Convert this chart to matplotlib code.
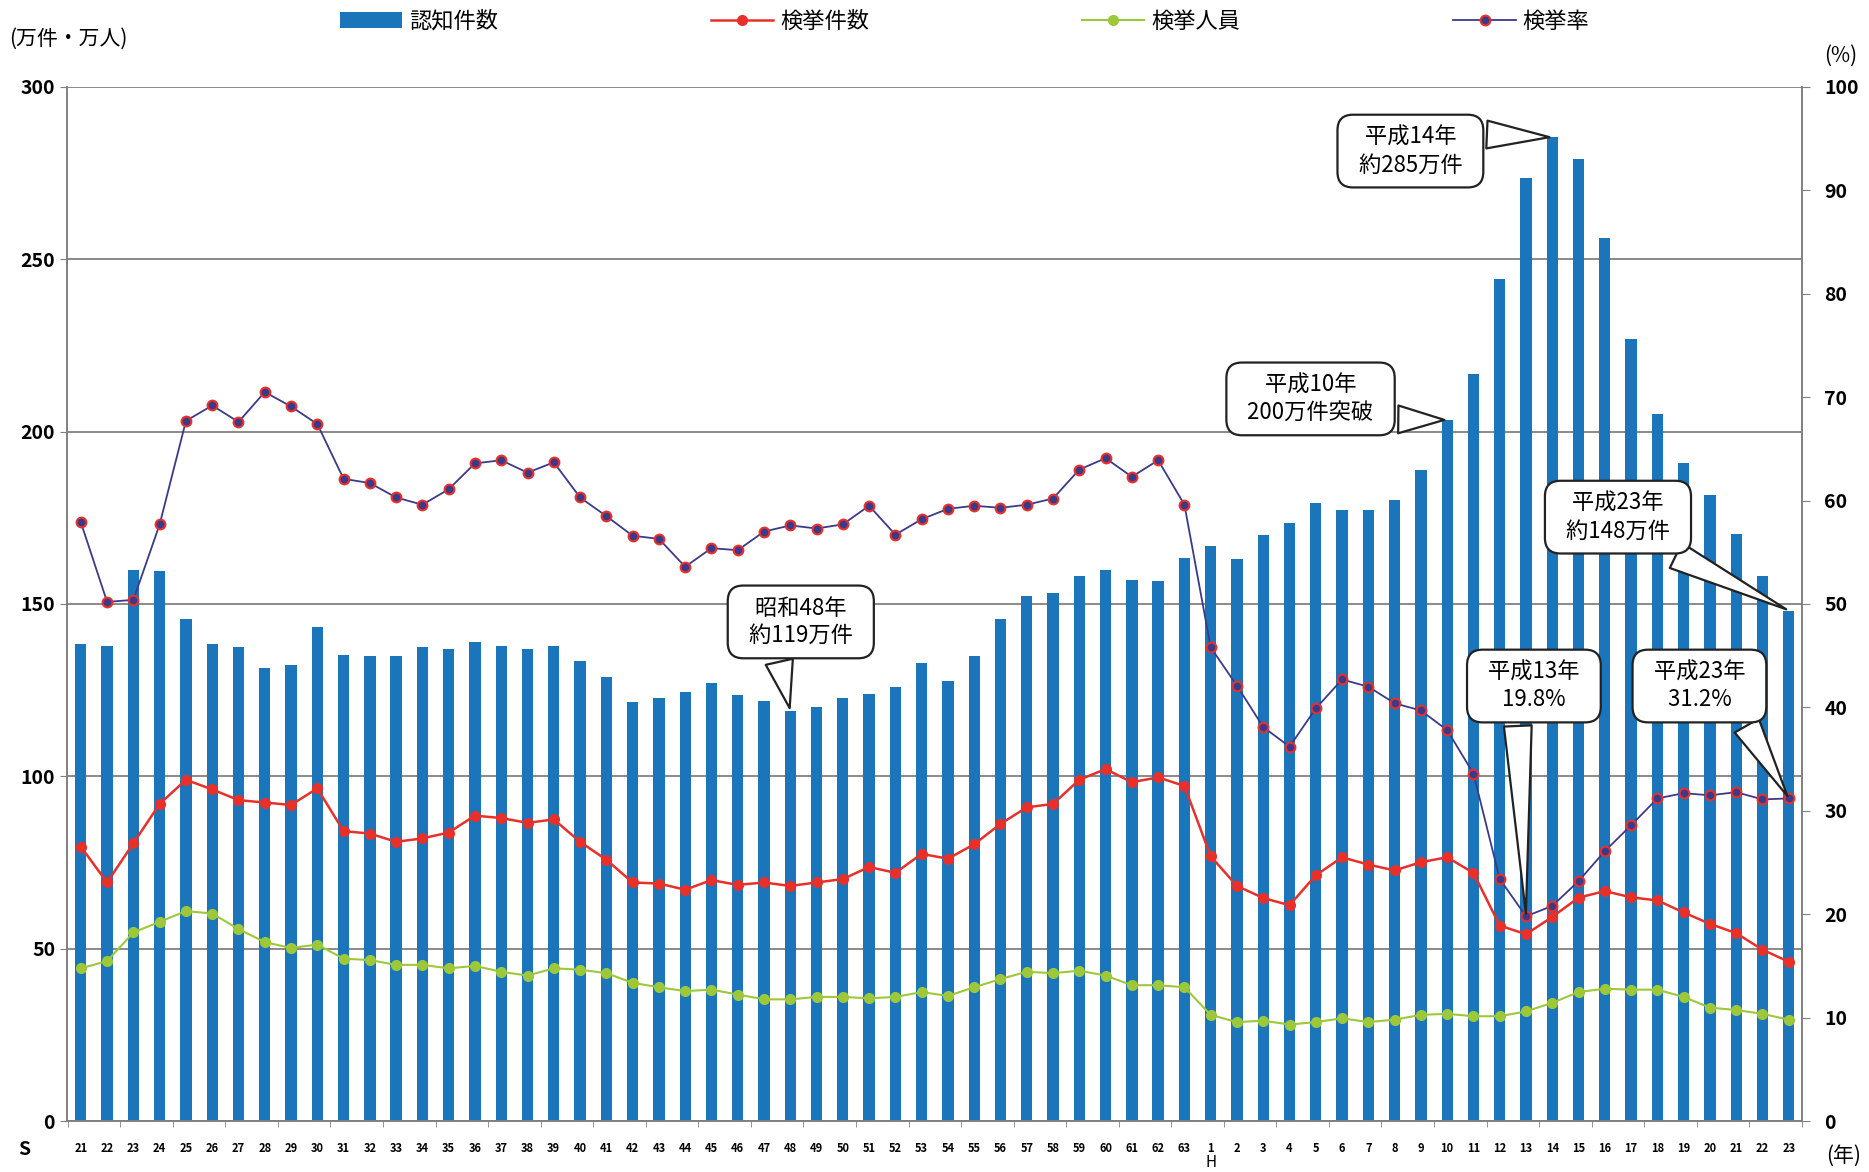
import numpy as np
import matplotlib
matplotlib.use("Agg")
from matplotlib import pyplot as plt

plt.rcParams['font.family'] = ['Noto Sans CJK JP', 'DejaVu Sans']

# Year labels: Showa 21-63, Heisei 1-23
year_labels = [str(y) for y in range(21, 64)] + [str(y) for y in range(1, 24)]

# 認知件数 (万件)
recognized = [138.4, 137.7, 159.9, 159.5, 145.7, 138.4, 137.4, 131.5, 132.2, 143.3,
              135.3, 135.0, 135.0, 137.4, 137.0, 139.1, 137.7, 137.0, 137.7, 133.6,
              128.7, 121.5, 122.8, 124.6, 127.0, 123.5, 121.8, 119.0, 120.0, 122.8,
              123.9, 126.0, 132.9, 127.7, 135.0, 145.7, 152.2, 153.3, 158.1, 159.9,
              157.1, 156.7, 163.3, 166.8, 163.0, 169.9, 173.4, 179.2, 177.2, 177.2,
              180.3, 188.9, 203.4, 216.6, 244.3, 273.6, 285.4, 279.0, 256.3, 227.0,
              205.1, 190.9, 181.6, 170.4, 158.0, 148.1]

# 検挙件数 (万件)
cleared_cases = [79.6, 69.2, 80.6, 92.0, 99.0, 96.2, 93.1, 92.4, 91.7, 96.5,
                 84.1, 83.4, 81.0, 82.0, 83.7, 88.6, 87.9, 86.5, 87.5, 81.0,
                 75.8, 69.2, 68.9, 67.1, 69.9, 68.5, 69.2, 68.2, 69.2, 70.2,
                 73.7, 72.0, 77.5, 76.1, 80.3, 86.2, 91.0, 92.0, 99.0, 102.1,
                 98.3, 99.7, 97.2, 76.8, 68.2, 64.7, 62.6, 71.3, 76.5, 74.4,
                 72.7, 75.1, 76.5, 72.0, 56.7, 54.2, 59.2, 64.8, 66.7, 64.9,
                 64.0, 60.5, 57.2, 54.5, 49.7, 46.2]

# 検挙人員 (万人)
cleared_persons = [44.3, 46.4, 54.7, 57.8, 60.9, 60.2, 55.7, 51.9, 50.2, 51.2,
                   47.1, 46.7, 45.3, 45.3, 44.3, 45.0, 43.3, 42.2, 44.3, 43.9,
                   42.9, 40.1, 38.8, 37.7, 38.1, 36.7, 35.3, 35.3, 36.0, 36.0,
                   35.6, 36.0, 37.4, 36.3, 38.8, 41.2, 43.3, 42.9, 43.6, 42.2,
                   39.4, 39.4, 38.8, 30.8, 28.7, 29.1, 28.0, 28.7, 29.8, 28.7,
                   29.4, 30.8, 31.1, 30.4, 30.4, 31.8, 34.3, 37.4, 38.4, 38.1,
                   38.1, 36.0, 32.9, 32.2, 31.1, 29.4]

# 検挙率 (%)
clearance_rate = [57.9, 50.2, 50.4, 57.7, 67.7, 69.2, 67.6, 70.5, 69.1, 67.4,
                  62.1, 61.7, 60.3, 59.6, 61.1, 63.6, 63.9, 62.7, 63.7, 60.3,
                  58.5, 56.6, 56.3, 53.6, 55.4, 55.2, 57.0, 57.6, 57.3, 57.7,
                  59.5, 56.7, 58.2, 59.2, 59.5, 59.3, 59.6, 60.2, 63.0, 64.1,
                  62.3, 63.9, 59.6, 45.8, 42.1, 38.1, 36.2, 39.9, 42.7, 42.0,
                  40.4, 39.7, 37.8, 33.6, 23.4, 19.8, 20.8, 23.2, 26.1, 28.6,
                  31.2, 31.7, 31.5, 31.8, 31.1, 31.2]

x = np.arange(len(year_labels))

fig = plt.figure(figsize=(18.69, 11.72), dpi=100)
ax = fig.add_axes([0.0358, 0.0435, 0.9283, 0.8823])
ax2 = ax.twinx()

bar_color = '#1b75bb'
red = '#e8302a'
green = '#9cc83a'
navy = '#3b3a8a'

bars = ax.bar(x, recognized, width=0.43, color=bar_color, zorder=2, label='認知件数')
l1, = ax.plot(x, cleared_cases, color=red, lw=1.8, marker='o', ms=7, zorder=3, label='検挙件数')
l2, = ax.plot(x, cleared_persons, color=green, lw=1.5, marker='o', ms=7, zorder=3, label='検挙人員')
l3, = ax2.plot(x, clearance_rate, color=navy, lw=1.3, marker='o', ms=7, mfc=navy,
               mec=red, mew=1.5, zorder=3, label='検挙率')

ax.set_xlim(-0.53, 65.5)
ax.set_ylim(0, 300)
ax2.set_ylim(0, 100)

ax.set_yticks(np.arange(0, 301, 50))
ax2.set_yticks(np.arange(0, 101, 10))
ax.yaxis.grid(True, color='#808080', lw=1.3)
ax.set_axisbelow(True)

for a in (ax, ax2):
    for s in a.spines.values():
        s.set_color('#808080')
        s.set_linewidth(1.2)
    a.spines['top'].set_visible(False)

ax.tick_params(axis='y', length=5, color='#808080', labelsize=14)
ax2.tick_params(axis='y', length=6, color='#808080', labelsize=14, pad=10)
for lbl in ax.get_yticklabels() + ax2.get_yticklabels():
    lbl.set_fontweight('bold')

ax.set_xticks(x)
ax.set_xticklabels(year_labels, fontsize=8, fontweight='bold')
ax.tick_params(axis='x', length=0, pad=15)
ax.set_xticks(np.arange(-0.5, 66, 2), minor=True)
ax.tick_params(axis='x', which='minor', length=4, color='#808080')

# axis side labels
fig.text(0.005, 0.967, '(万件・万人)', fontsize=15, va='center', ha='left')
fig.text(0.976, 0.952, '(%)', fontsize=15, va='center', ha='left')
fig.text(0.977, 0.014, '(年)', fontsize=15, va='center', ha='left')
fig.text(0.013, 0.019, 'S', fontsize=14, fontweight='bold', va='center', ha='center')
ax.annotate('H', xy=(43, 0), xycoords='data', xytext=(0, -30), textcoords='offset points',
            ha='center', va='center', fontsize=11, annotation_clip=False)

fig.legend(handles=[bars, l1, l2, l3], loc='center', bbox_to_anchor=(0.516, 0.982),
           ncol=4, frameon=False, fontsize=16, columnspacing=9.6, handlelength=2.8,
           handletextpad=0.3)

# callouts (drawn on ax2 so they sit above everything)
box = dict(boxstyle='round,pad=0.5,rounding_size=0.7', fc='white', ec='#222222', lw=1.6)
wedge = dict(arrowstyle='wedge,tail_width=1.25,shrink_factor=0.5', fc='white', ec='#222222', lw=1.6)

def callout(text, xy, xytext, coords, relpos):
    text = '\n'.join('  ' + t + '  ' for t in text.split('\n'))
    ax2.annotate(text, xy=xy, xycoords=coords, xytext=xytext, textcoords=ax.transData,
                 ha='center', va='center', fontsize=16, linespacing=1.25, bbox=box,
                 arrowprops=dict(wedge, relpos=relpos), zorder=10)

i48 = year_labels.index('48')
callout('昭和48年\n約119万件', (i48, recognized[i48]), (27.4, 144.8), ax.transData, (0.3, 0.0))
callout('平成10年\n200万件突破', (52, recognized[52]), (46.8, 209.5), ax.transData, (0.92, 0.1))
callout('平成14年\n約285万件', (56, recognized[56]), (50.6, 281.4), ax.transData, (0.9, 0.85))
callout('平成23年\n約148万件', (65, recognized[65]), (58.5, 175.2), ax.transData, (0.75, 0.0))
callout('平成13年\n19.8%', (55, clearance_rate[55]), (55.3, 126.2), ax2.transData, (0.35, 0.0))
callout('平成23年\n31.2%', (65, clearance_rate[65]), (61.6, 126.2), ax2.transData, (0.85, 0.0))

fig.savefig('out.png', dpi=100)
